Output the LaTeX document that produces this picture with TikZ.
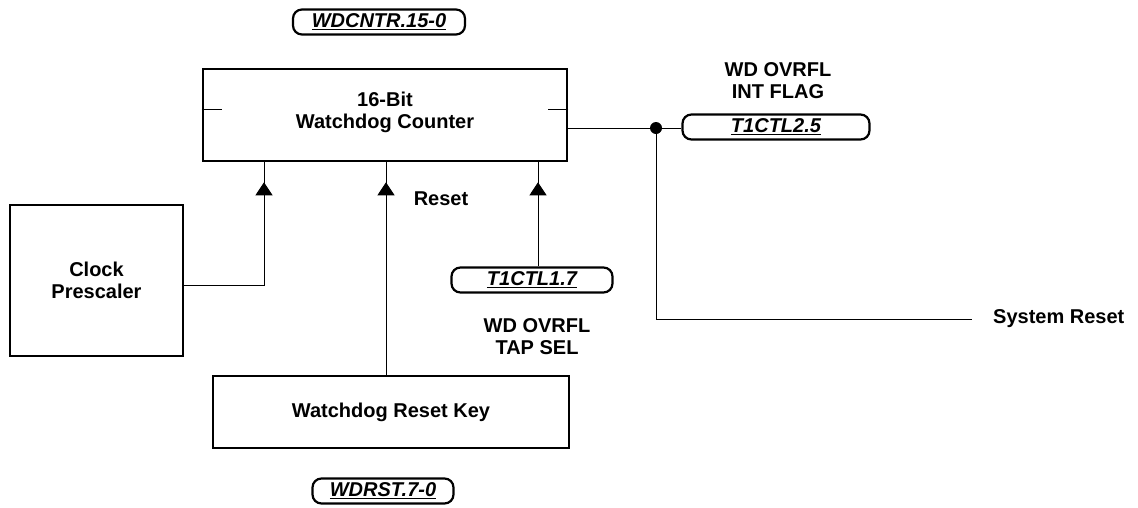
\documentclass[tikz,border=0pt]{standalone}
\usepackage{fontspec}
\setmainfont{Liberation Sans}
\usetikzlibrary{arrows.meta,positioning,decorations.markings}
\newcommand{\bigtxt}{\fontsize{20pt}{22pt}\selectfont}
\newcommand{\regname}[1]{\underline{#1}}
\tikzset{
  block/.style={
    draw,line width=2.6pt,inner sep=0pt,align=center,
    font=\bigtxt\bfseries
  },
  reg/.style={
    draw,line width=2.2pt,rounded corners=9pt,inner sep=0pt,
    minimum height=25pt,font=\bigtxt\bfseries\itshape
  },
  note/.style={inner sep=0pt,align=center,font=\bigtxt\bfseries},
  wire/.style={line width=1pt},
  feed/.style={
    wire,postaction={decorate},
    decoration={markings,
      mark=at position -20pt with {\arrow{Triangle[width=17pt,length=13pt]}}}
  }
}
\begin{document}
\begin{tikzpicture}[x=1pt,y=-1pt]
  \useasboundingbox (0,0) rectangle (1138,507);
  % blocks
  \node[block,minimum width=364pt,minimum height=92pt] (cnt) at (385,115)
    {16-Bit\\Watchdog Counter\\[-12pt]};
  \node[block,minimum width=173pt,minimum height=151pt] (pre) at (96.5,280.5)
    {Clock\\Prescaler};
  \node[block,minimum width=356pt,minimum height=72pt] (key) at (391,412)
    {Watchdog Reset Key};
  % registers
  \node[reg,minimum width=172pt] (wdcntr) at (379,22) {\regname{WDCNTR.15-0}};
  \node[reg,minimum width=187pt] (t2) at (776,127) {\regname{T1CTL2.5}};
  \node[reg,minimum width=161pt] (t1) at (532,280) {\regname{T1CTL1.7}};
  \node[reg,minimum width=141pt] (wdrst) at (383,491) {\regname{WDRST.7-0}};
  % labels
  \node[note] (rst) at (441,199) {Reset};
  \node[note] (intflag) at (778,81) {WD OVRFL\\INT FLAG};
  \node[note] (tapsel) at (537,337) {WD OVRFL\\TAP SEL};
  \node[note,anchor=west] (sys) at (993,319) {System Reset};
  % taps on the counter
  \coordinate (inA) at (264,0);
  \coordinate (inB) at (386,0);
  \coordinate (inC) at (538,0);
  \coordinate (tap) at (656,128);
  \draw[wire] ([yshift=6pt]cnt.west) -- ++(20,0);
  \draw[wire] ([yshift=6pt]cnt.east) -- ++(-20,0);
  % connections
  \draw[feed] ([yshift=-4.5pt]pre.east) -| (cnt.south -| inA);
  \draw[feed] (key.north -| inB) -- (cnt.south -| inB);
  \draw[feed] (t1.north -| inC) -- (cnt.south -| inC);
  \draw[wire] (cnt.east |- tap) -- (t2.west |- tap);
  \draw[wire,shorten >=21pt] (tap) |- (sys.west);
  \fill (tap) circle (6pt);
\end{tikzpicture}
\end{document}
